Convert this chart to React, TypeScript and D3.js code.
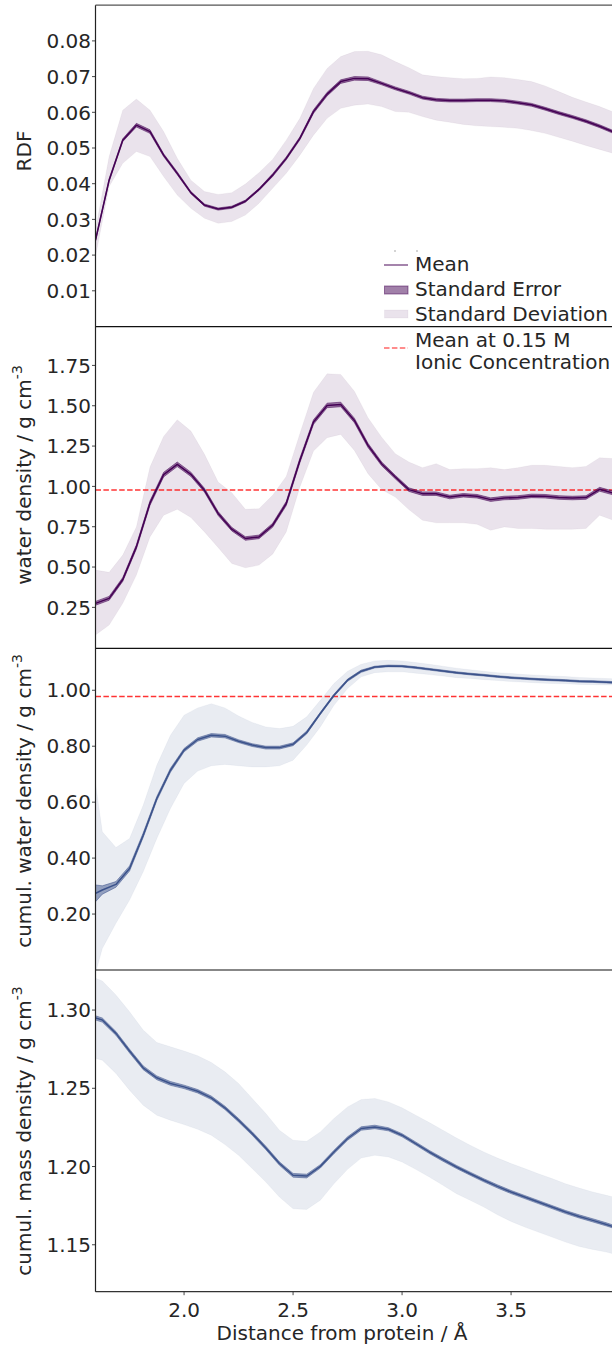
import React from "react";
import * as d3 from "d3";

// ---------- data ----------
const xFine = [1.59375, 1.65625, 1.71875, 1.78125, 1.84375, 1.90625, 1.96875, 2.03125, 2.09375, 2.15625, 2.21875, 2.28125, 2.34375, 2.40625, 2.46875, 2.53125, 2.59375, 2.65625, 2.71875, 2.78125, 2.84375, 2.90625, 2.96875, 3.03125, 3.09375, 3.15625, 3.21875, 3.28125, 3.34375, 3.40625, 3.46875, 3.53125, 3.59375, 3.65625, 3.71875, 3.78125, 3.84375, 3.90625, 3.96875];

const xCoarse = [1.5625, 1.625, 1.6875, 1.75, 1.8125, 1.875, 1.9375, 2.0, 2.0625, 2.125, 2.1875, 2.25, 2.3125, 2.375, 2.4375, 2.5, 2.5625, 2.625, 2.6875, 2.75, 2.8125, 2.875, 2.9375, 3.0, 3.0625, 3.125, 3.1875, 3.25, 3.3125, 3.375, 3.4375, 3.5, 3.5625, 3.625, 3.6875, 3.75, 3.8125, 3.875, 3.9375, 4.0];

const rdfMean = [0.0242, 0.0410, 0.0522, 0.0564, 0.0546, 0.0480, 0.0429, 0.0375, 0.0340, 0.0329, 0.0334, 0.0351, 0.0384, 0.0424, 0.0471, 0.0527, 0.0602, 0.0651, 0.0686, 0.0695, 0.0694, 0.0681, 0.0667, 0.0655, 0.0641, 0.0635, 0.0633, 0.0633, 0.0634, 0.0634, 0.0632, 0.0627, 0.0621, 0.0610, 0.0598, 0.0587, 0.0575, 0.0561, 0.0545];
const rdfUpper = [0.0270, 0.0476, 0.0606, 0.0637, 0.0606, 0.0546, 0.0471, 0.0410, 0.0378, 0.0370, 0.0375, 0.0399, 0.0431, 0.0468, 0.0522, 0.0583, 0.0667, 0.0723, 0.0756, 0.0770, 0.0771, 0.0761, 0.0742, 0.0725, 0.0705, 0.0700, 0.0697, 0.0694, 0.0695, 0.0699, 0.0697, 0.0692, 0.0686, 0.0674, 0.0658, 0.0642, 0.0629, 0.0616, 0.0601];
const rdfLower = [0.0196, 0.0392, 0.0457, 0.0490, 0.0476, 0.0420, 0.0368, 0.0331, 0.0303, 0.0289, 0.0294, 0.0312, 0.0345, 0.0387, 0.0429, 0.0480, 0.0536, 0.0583, 0.0611, 0.0620, 0.0623, 0.0616, 0.0602, 0.0600, 0.0588, 0.0578, 0.0572, 0.0566, 0.0562, 0.0560, 0.0558, 0.0555, 0.0549, 0.0541, 0.0530, 0.0519, 0.0507, 0.0496, 0.0485];
const rdfSe = [0.0003, 0.0004, 0.0004, 0.0005, 0.0005, 0.0004, 0.0004, 0.0003, 0.0003, 0.0003, 0.0003, 0.0003, 0.0003, 0.0004, 0.0004, 0.0004, 0.0005, 0.0005, 0.0005, 0.0005, 0.0005, 0.0004, 0.0004, 0.0004, 0.0004, 0.0004, 0.0004, 0.0004, 0.0004, 0.0004, 0.0004, 0.0004, 0.0004, 0.0004, 0.0004, 0.0004, 0.0004, 0.0004, 0.0004];

const waterMean = [0.275, 0.306, 0.423, 0.625, 0.897, 1.073, 1.137, 1.075, 0.976, 0.832, 0.735, 0.677, 0.687, 0.759, 0.894, 1.161, 1.399, 1.502, 1.508, 1.409, 1.254, 1.140, 1.058, 0.980, 0.955, 0.955, 0.934, 0.945, 0.939, 0.918, 0.928, 0.931, 0.941, 0.939, 0.931, 0.928, 0.931, 0.982, 0.959];
const waterUpper = [0.481, 0.467, 0.574, 0.749, 1.120, 1.310, 1.413, 1.343, 1.199, 1.027, 0.961, 0.858, 0.862, 0.945, 1.062, 1.327, 1.584, 1.698, 1.694, 1.590, 1.426, 1.305, 1.203, 1.151, 1.116, 1.141, 1.104, 1.110, 1.110, 1.116, 1.104, 1.116, 1.131, 1.131, 1.124, 1.116, 1.124, 1.178, 1.172];
const waterLower = [0.079, 0.140, 0.275, 0.450, 0.687, 0.821, 0.858, 0.807, 0.718, 0.621, 0.522, 0.495, 0.512, 0.580, 0.718, 0.996, 1.219, 1.302, 1.322, 1.223, 1.079, 0.980, 0.934, 0.856, 0.790, 0.774, 0.774, 0.774, 0.765, 0.728, 0.749, 0.739, 0.739, 0.734, 0.734, 0.734, 0.739, 0.821, 0.790];
const waterSe = [0.012, 0.012, 0.012, 0.013, 0.014, 0.014, 0.014, 0.013, 0.012, 0.012, 0.011, 0.011, 0.011, 0.012, 0.013, 0.014, 0.014, 0.014, 0.014, 0.014, 0.013, 0.012, 0.011, 0.011, 0.011, 0.011, 0.011, 0.011, 0.011, 0.011, 0.011, 0.011, 0.011, 0.011, 0.011, 0.011, 0.011, 0.012, 0.012];

const cumWaterMean = [0.262, 0.286, 0.306, 0.363, 0.482, 0.613, 0.714, 0.786, 0.824, 0.839, 0.836, 0.818, 0.804, 0.795, 0.795, 0.807, 0.849, 0.917, 0.982, 1.036, 1.068, 1.083, 1.087, 1.086, 1.081, 1.075, 1.069, 1.063, 1.058, 1.054, 1.049, 1.045, 1.042, 1.039, 1.037, 1.035, 1.032, 1.031, 1.029, 1.027];
const cumWaterUpper = [0.840, 0.494, 0.438, 0.470, 0.589, 0.732, 0.839, 0.911, 0.937, 0.952, 0.937, 0.908, 0.885, 0.869, 0.863, 0.871, 0.905, 0.964, 1.024, 1.068, 1.093, 1.105, 1.107, 1.105, 1.099, 1.093, 1.086, 1.079, 1.073, 1.068, 1.063, 1.060, 1.056, 1.054, 1.051, 1.049, 1.046, 1.044, 1.042, 1.041];
const cumWaterLower = [-0.100, 0.077, 0.167, 0.250, 0.351, 0.470, 0.577, 0.667, 0.711, 0.730, 0.735, 0.730, 0.726, 0.726, 0.730, 0.750, 0.804, 0.869, 0.946, 1.006, 1.048, 1.063, 1.066, 1.066, 1.061, 1.056, 1.051, 1.045, 1.042, 1.038, 1.035, 1.031, 1.029, 1.026, 1.024, 1.023, 1.021, 1.020, 1.019, 1.018];
const cumWaterSe = [0.045, 0.015, 0.010, 0.009, 0.008, 0.007, 0.007, 0.006, 0.006, 0.006, 0.006, 0.005, 0.005, 0.005, 0.005, 0.005, 0.005, 0.004, 0.004, 0.004, 0.004, 0.003, 0.003, 0.003, 0.003, 0.003, 0.003, 0.003, 0.003, 0.003, 0.003, 0.003, 0.003, 0.003, 0.003, 0.003, 0.003, 0.003, 0.003, 0.003];

const cumMassMean = [1.2964, 1.2936, 1.2851, 1.2738, 1.2631, 1.2567, 1.2531, 1.2509, 1.2481, 1.2439, 1.2375, 1.2296, 1.2211, 1.2119, 1.2019, 1.1944, 1.1939, 1.2001, 1.2093, 1.2179, 1.2243, 1.2253, 1.2238, 1.2200, 1.2147, 1.2093, 1.2044, 1.1997, 1.1954, 1.1912, 1.1873, 1.1837, 1.1805, 1.1773, 1.1741, 1.1709, 1.1681, 1.1656, 1.1630, 1.1602];
const cumMassUpper = [1.3220, 1.3186, 1.3096, 1.2989, 1.2872, 1.2793, 1.2765, 1.2738, 1.2708, 1.2665, 1.2605, 1.2531, 1.2435, 1.2339, 1.2232, 1.2168, 1.2161, 1.2221, 1.2307, 1.2381, 1.2428, 1.2435, 1.2413, 1.2375, 1.2328, 1.2281, 1.2232, 1.2182, 1.2136, 1.2093, 1.2054, 1.2019, 1.1987, 1.1954, 1.1923, 1.1890, 1.1862, 1.1837, 1.1816, 1.1794];
const cumMassLower = [1.2701, 1.2680, 1.2595, 1.2488, 1.2392, 1.2328, 1.2296, 1.2268, 1.2238, 1.2200, 1.2140, 1.2072, 1.1987, 1.1901, 1.1805, 1.1730, 1.1726, 1.1784, 1.1890, 1.1982, 1.2054, 1.2072, 1.2061, 1.2029, 1.1982, 1.1933, 1.1880, 1.1826, 1.1784, 1.1741, 1.1692, 1.1649, 1.1613, 1.1581, 1.1549, 1.1517, 1.1489, 1.1470, 1.1453, 1.1431];
const cumMassSe = [0.0014, 0.0013, 0.0012, 0.0012, 0.0012, 0.0012, 0.0012, 0.0011, 0.0011, 0.0011, 0.0011, 0.0011, 0.0011, 0.0011, 0.0011, 0.0012, 0.0012, 0.0011, 0.0011, 0.0011, 0.0011, 0.0011, 0.0010, 0.0010, 0.0010, 0.0010, 0.0010, 0.0010, 0.0010, 0.0010, 0.0010, 0.0010, 0.0010, 0.0010, 0.0010, 0.0010, 0.0010, 0.0010, 0.0010, 0.0010];

const referenceDensity = 0.978; // mean at 0.15 M ionic concentration

const xTickValues = [2.0, 2.5, 3.0, 3.5];
const rdfTicks = [0.01, 0.02, 0.03, 0.04, 0.05, 0.06, 0.07, 0.08];
const waterTicks = [0.25, 0.5, 0.75, 1.0, 1.25, 1.5, 1.75];
const cumWaterTicks = [0.2, 0.4, 0.6, 0.8, 1.0];
const cumMassTicks = [1.15, 1.2, 1.25, 1.3];

const legendEntries = ["Mean", "Standard Error", "Standard Deviation"];
const refLegendLines = ["Mean at 0.15 M", "Ionic Concentration"];

// ---------- layout ----------
const W = 612;
const H = 1345;
const FONT = "'DejaVu Sans', Verdana, sans-serif";
const PURPLE = "#440154";
const BLUE = "#3b528b";
const LEFT = 95.5;
const RIGHT = 612;
const TEXT = "#262626";

const x = d3.scaleLinear().domain([1.59375, 3.96875]).range([LEFT, 613.25]);

type PanelDef = {
  id: string;
  xs: number[];
  mean: number[];
  lo: number[];
  hi: number[];
  se: number[];
  color: string;
  domain: [number, number];
  top: number;
  bottom: number;
  ticks: number[];
  label: string;
  sup: boolean;
  labelY: number;
  ref: boolean;
};

const panels: PanelDef[] = [
  { id: "p1", xs: xFine, mean: rdfMean, lo: rdfLower, hi: rdfUpper, se: rdfSe, color: PURPLE, domain: [0, 0.09], top: 5.2, bottom: 326.5, ticks: rdfTicks, label: "RDF", sup: false, labelY: 151, ref: false },
  { id: "p2", xs: xFine, mean: waterMean, lo: waterLower, hi: waterUpper, se: waterSe, color: PURPLE, domain: [0, 1.99], top: 326.7, bottom: 647.7, ticks: waterTicks, label: "water density / g cm", sup: true, labelY: 475, ref: true },
  { id: "p3", xs: xCoarse, mean: cumWaterMean, lo: cumWaterLower, hi: cumWaterUpper, se: cumWaterSe, color: BLUE, domain: [0, 1.15], top: 648.3, bottom: 970, ticks: cumWaterTicks, label: "cumul. water density / g cm", sup: true, labelY: 801, ref: true },
  { id: "p4", xs: xCoarse, mean: cumMassMean, lo: cumMassLower, hi: cumMassUpper, se: cumMassSe, color: BLUE, domain: [1.12, 1.3256], top: 970, bottom: 1291.7, ticks: cumMassTicks, label: "cumul. mass density / g cm", sup: true, labelY: 1131, ref: false },
];

const fmt2 = d3.format(".2f");
const fmt1 = d3.format(".1f");

function Panel({ p }: { p: PanelDef }) {
  const y = d3.scaleLinear().domain(p.domain).range([p.bottom, p.top]);
  const idx = p.xs.map((_, i) => i);
  const sdArea = d3
    .area<number>()
    .x((i) => x(p.xs[i]))
    .y0((i) => y(p.lo[i]))
    .y1((i) => y(p.hi[i]));
  const seArea = d3
    .area<number>()
    .x((i) => x(p.xs[i]))
    .y0((i) => y(p.mean[i] - p.se[i]))
    .y1((i) => y(p.mean[i] + p.se[i]));
  const meanLine = d3
    .line<number>()
    .x((i) => x(p.xs[i]))
    .y((i) => y(p.mean[i]));
  const clipId = `clip-${p.id}`;
  return (
    <g>
      <defs>
        <clipPath id={clipId}>
          <rect x={LEFT} y={p.top} width={RIGHT - LEFT + 2} height={p.bottom - p.top} />
        </clipPath>
      </defs>
      <g clipPath={`url(#${clipId})`}>
        <path d={sdArea(idx) || ""} fill={p.color} fillOpacity={0.11} stroke={p.color} strokeOpacity={0.05} strokeWidth={0.8} />
        {p.ref && (
          <line
            x1={LEFT}
            x2={RIGHT + 2}
            y1={y(referenceDensity)}
            y2={y(referenceDensity)}
            stroke="#ff0000"
            strokeOpacity={0.8}
            strokeWidth={1.5}
            strokeDasharray="5.5,2.4"
          />
        )}
        <path d={seArea(idx) || ""} fill={p.color} fillOpacity={0.5} stroke={p.color} strokeOpacity={0.5} strokeWidth={1} />
        <path d={meanLine(idx) || ""} fill="none" stroke={p.color} strokeWidth={1.5} strokeLinejoin="round" />
      </g>
      {p.ticks.map((t) => (
        <g key={t}>
          <line x1={LEFT - 3.5} x2={LEFT} y1={y(t)} y2={y(t)} stroke="#333" strokeWidth={0.9} />
          <text x={LEFT - 4.5} y={y(t)} dy="0.36em" textAnchor="end" fontSize={20} fill={TEXT} fontFamily={FONT}>
            {fmt2(t)}
          </text>
        </g>
      ))}
      <text
        transform={`translate(30.5, ${p.labelY}) rotate(-90)`}
        textAnchor="middle"
        fontSize={20}
        fill={TEXT}
        fontFamily={FONT}
      >
        {p.label}
        {p.sup && (
          <tspan fontSize={14} dy={-9}>
            -3
          </tspan>
        )}
      </text>
    </g>
  );
}

export default function App() {
  const bottom = panels[3].bottom;
  return (
    <svg
      width={W}
      height={H}
      viewBox={`0 0 ${W} ${H}`}
      style={{ position: "absolute", left: 0, top: 0, background: "#fff" }}
    >
      <rect x={0} y={0} width={W} height={H} fill="#fff" />
      {panels.map((p) => (
        <Panel key={p.id} p={p} />
      ))}
      {/* spines */}
      <line x1={LEFT} x2={RIGHT} y1={5.2} y2={5.2} stroke="#555" strokeWidth={1.2} />
      {panels.slice(1).map((p) => (
        <line key={p.id} x1={LEFT} x2={RIGHT} y1={p.top} y2={p.top} stroke="#111" strokeWidth={1.2} />
      ))}
      <line x1={LEFT} x2={RIGHT} y1={bottom} y2={bottom} stroke="#333" strokeWidth={1.2} />
      <line x1={LEFT} x2={LEFT} y1={5.2} y2={bottom} stroke="#222" strokeWidth={1.2} />
      {/* x axis */}
      {xTickValues.map((t) => (
        <g key={t}>
          <line x1={x(t)} x2={x(t)} y1={bottom} y2={bottom + 3.5} stroke="#333" strokeWidth={0.9} />
          <text x={x(t)} y={1317} textAnchor="middle" fontSize={20} fill={TEXT} fontFamily={FONT}>
            {fmt1(t)}
          </text>
        </g>
      ))}
      <text x={342} y={1340} textAnchor="middle" fontSize={20} fill={TEXT} fontFamily={FONT}>
        Distance from protein / Å
      </text>
      {/* legend, panel 1 */}
      <rect x={394.5} y={250.5} width={1} height={1} fill="#555" />
      <rect x={416.5} y={250.5} width={1} height={1} fill="#555" />
      <line x1={384} x2={408} y1={265} y2={265} stroke={PURPLE} strokeOpacity={0.75} strokeWidth={1.3} />
      <rect x={384.5} y={286} width={23.5} height={8} fill={PURPLE} fillOpacity={0.5} stroke={PURPLE} strokeOpacity={0.5} strokeWidth={1} />
      <rect x={384.5} y={310} width={23.5} height={8} fill={PURPLE} fillOpacity={0.11} stroke={PURPLE} strokeOpacity={0.05} strokeWidth={0.8} />
      {legendEntries.map((t, i) => (
        <text key={t} x={415} y={[271, 296, 321][i]} fontSize={20} fill={TEXT} fontFamily={FONT}>
          {t}
        </text>
      ))}
      {/* legend, panel 2 */}
      <line x1={384} x2={408} y1={348} y2={348} stroke="#ff0000" strokeOpacity={0.6} strokeWidth={1.3} strokeDasharray="5.5,2.4" />
      {refLegendLines.map((t, i) => (
        <text key={t} x={415} y={[346.5, 368.5][i]} fontSize={20} fill={TEXT} fontFamily={FONT}>
          {t}
        </text>
      ))}
    </svg>
  );
}
